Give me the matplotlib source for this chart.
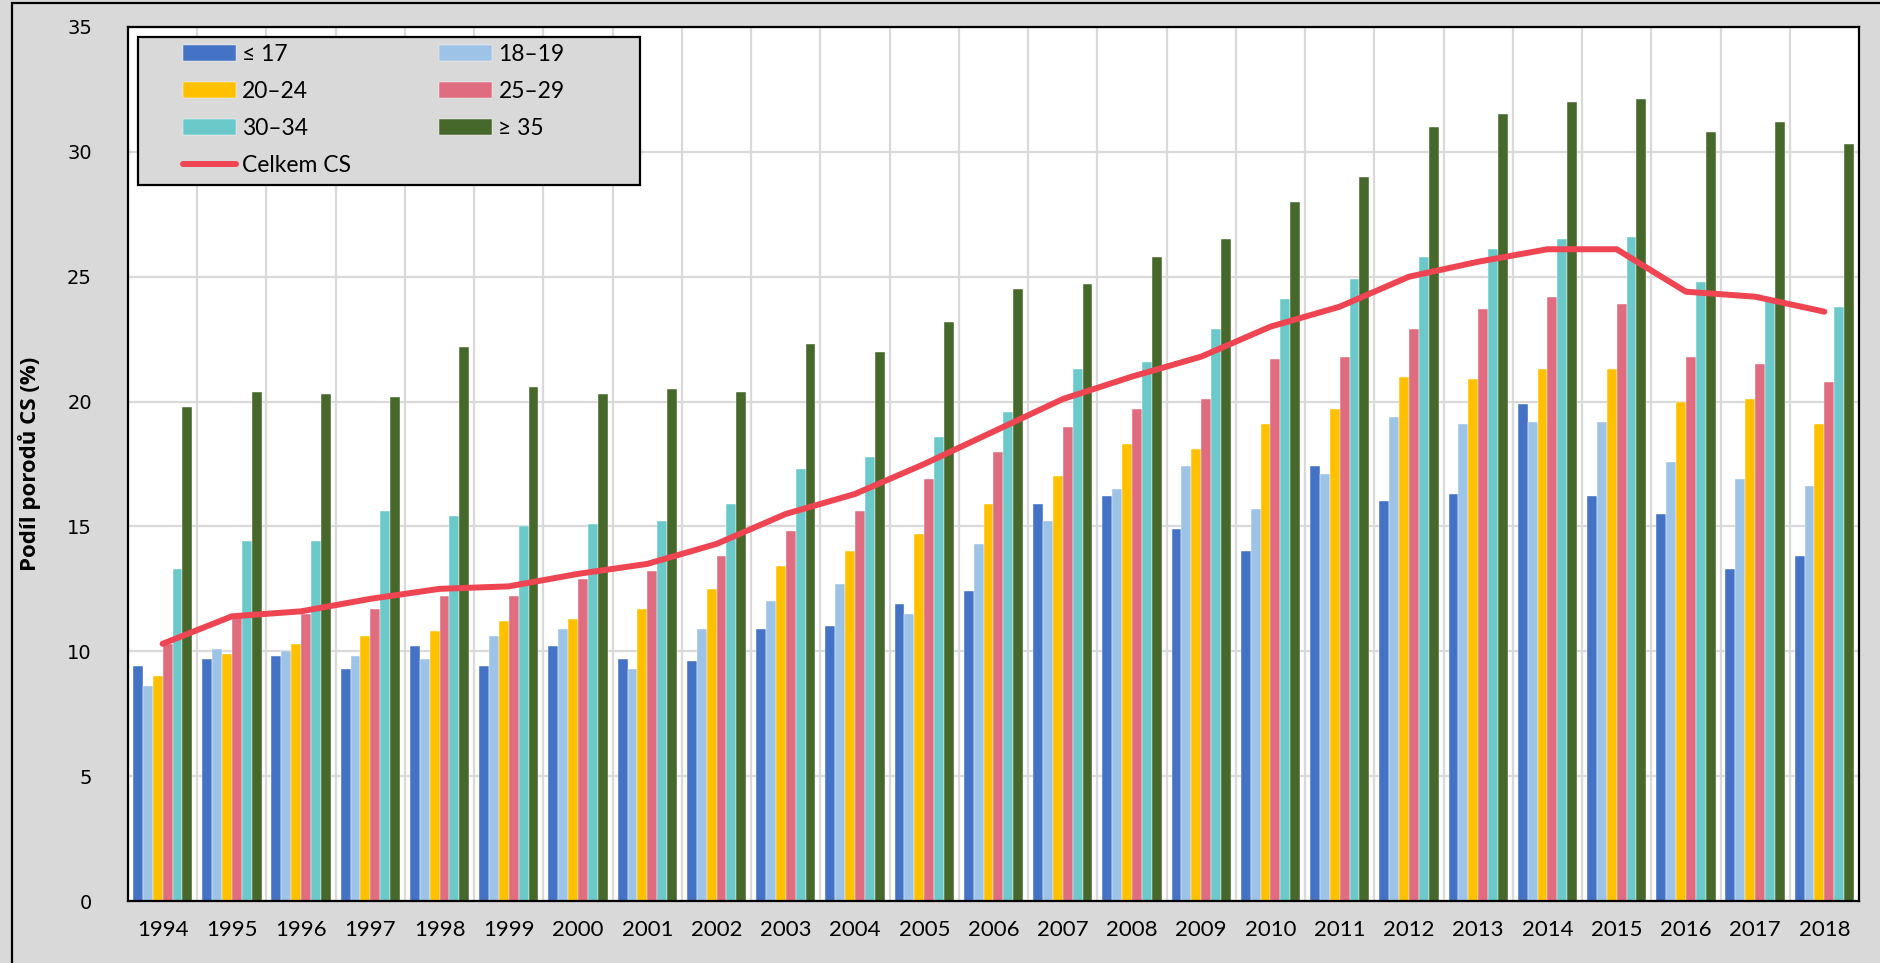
import numpy as np
import matplotlib
matplotlib.use('Agg')
import matplotlib.pyplot as plt
from matplotlib.patches import Rectangle

# Hodnoty (podíl CS v %)
roky = [str(r) for r in range(1994, 2019)]
do17 = [9.4, 9.7, 9.8, 9.3, 10.2, 9.4, 10.2, 9.7, 9.6, 10.9, 11.0, 11.9, 12.4,
        15.9, 16.2, 14.9, 14.0, 17.4, 16.0, 16.3, 19.9, 16.2, 15.5, 13.3, 13.8]
v18_19 = [8.6, 10.1, 10.0, 9.8, 9.7, 10.6, 10.9, 9.3, 10.9, 12.0, 12.7, 11.5, 14.3,
          15.2, 16.5, 17.4, 15.7, 17.1, 19.4, 19.1, 19.2, 19.2, 17.6, 16.9, 16.6]
v20_24 = [9.0, 9.9, 10.3, 10.6, 10.8, 11.2, 11.3, 11.7, 12.5, 13.4, 14.0, 14.7, 15.9,
          17.0, 18.3, 18.1, 19.1, 19.7, 21.0, 20.9, 21.3, 21.3, 20.0, 20.1, 19.1]
v25_29 = [10.3, 11.5, 11.5, 11.7, 12.2, 12.2, 12.9, 13.2, 13.8, 14.8, 15.6, 16.9, 18.0,
          19.0, 19.7, 20.1, 21.7, 21.8, 22.9, 23.7, 24.2, 23.9, 21.8, 21.5, 20.8]
v30_34 = [13.3, 14.4, 14.4, 15.6, 15.4, 15.0, 15.1, 15.2, 15.9, 17.3, 17.8, 18.6, 19.6,
          21.3, 21.6, 22.9, 24.1, 24.9, 25.8, 26.1, 26.5, 26.6, 24.8, 24.1, 23.8]
od35 = [19.8, 20.4, 20.3, 20.2, 22.2, 20.6, 20.3, 20.5, 20.4, 22.3, 22.0, 23.2, 24.5,
        24.7, 25.8, 26.5, 28.0, 29.0, 31.0, 31.5, 32.0, 32.1, 30.8, 31.2, 30.3]
celkem = [10.3, 11.4, 11.6, 12.1, 12.5, 12.6, 13.1, 13.5, 14.3, 15.5, 16.3, 17.5, 18.8,
          20.1, 21.0, 21.8, 23.0, 23.8, 25.0, 25.6, 26.1, 26.1, 24.4, 24.2, 23.6]

skupiny = ['≤ 17', '18–19', '20–24', '25–29', '30–34', '≥ 35']
barvy = ['#4472C4', '#9DC3E6', '#FFC000', '#E06C7F', '#6BC9C9', '#47682B']
serie = [do17, v18_19, v20_24, v25_29, v30_34, od35]

fig = plt.figure(figsize=(18.81, 9.63), dpi=100, facecolor='#D9D9D9')
ax = fig.add_axes([128 / 1881, 1 - 901 / 963, (1859 - 128) / 1881, (901 - 27) / 963])
ax.set_facecolor('white')

x = np.arange(len(roky))
w = 0.1427
sloupce = []
for i, (s, b, lab) in enumerate(zip(serie, barvy, skupiny)):
    h = ax.bar(x + (i - 2.5) * w, s, width=w, color=b, label=lab, zorder=2,
               edgecolor='white', linewidth=0.3)
    sloupce.append(h)

car, = ax.plot(x, celkem, color='#EF4452', linewidth=4.3, label='Celkem CS',
               zorder=4, solid_capstyle='round', solid_joinstyle='round')

ax.set_xlim(-0.5, len(roky) - 0.5)
ax.set_ylim(0, 35)
ax.set_yticks(np.arange(0, 36, 5))
ax.set_xticks(x)
ax.set_xticklabels(roky, fontsize=16, family='Lato')
ax.set_xticks(x[:-1] + 0.5, minor=True)
for t in ax.get_yticklabels():
    t.set_fontsize(14)
    t.set_family('DejaVu Sans')
ax.tick_params(axis='both', which='both', length=0)
ax.tick_params(axis='y', pad=26)
ax.tick_params(axis='x', pad=14)

ax.grid(True, axis='y', color='#D9D9D9', linewidth=1.6, zorder=0)
ax.grid(True, axis='x', which='minor', color='#D9D9D9', linewidth=1.6, zorder=0)
ax.set_axisbelow(True)

for sp in ax.spines.values():
    sp.set_linewidth(1.6)
    sp.set_color('black')

ax.set_ylabel('Podíl porodů CS (%)', fontsize=16, fontweight='bold', family='Open Sans',
              labelpad=18)
ax.yaxis.set_label_coords(-0.05, 0.5)

# šedý rámeček legendy
ax_w, ax_h = 1859 - 128, 901 - 27
box = Rectangle(((138 - 128) / ax_w, (901 - 185) / ax_h), (640 - 138) / ax_w, (185 - 37) / ax_h,
                transform=ax.transAxes, facecolor='#D9D9D9', edgecolor='black',
                linewidth=1.6, zorder=5)
ax.add_patch(box)

handles = [sloupce[0], sloupce[2], sloupce[4], car, sloupce[1], sloupce[3], sloupce[5]]
labels = [h.get_label() for h in handles]
leg = ax.legend(handles, labels, ncol=2, loc='upper left', frameon=False,
                bbox_to_anchor=((183 - 128) / ax_w, (901 - 44) / ax_h),
                borderpad=0, borderaxespad=0, prop={'family': 'Lato', 'size': 16.5},
                handlelength=2.3, handleheight=0.65, handletextpad=0.28,
                columnspacing=3.85, labelspacing=0.7)
leg.set_zorder(6)

# vnější rámeček obrázku
fig.patches.append(Rectangle((12 / 1881, -0.02), 1.1, 1 - 3 / 963 + 0.02,
                             transform=fig.transFigure, fill=False,
                             edgecolor='black', linewidth=1.6))

fig.savefig('out.png', dpi=100, facecolor=fig.get_facecolor())
